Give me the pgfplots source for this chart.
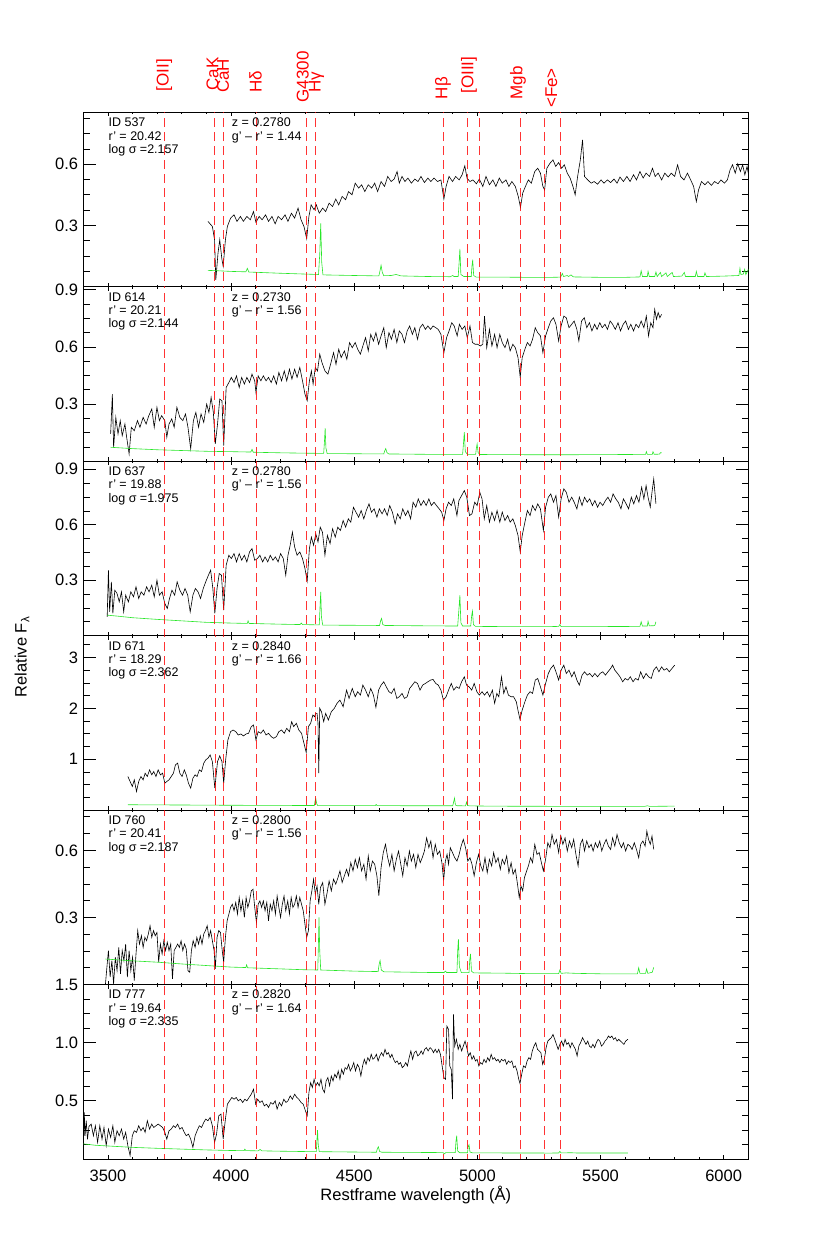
\documentclass[border=0pt]{standalone}
\usepackage{pgfplots}
\pgfplotsset{compat=1.18}
\usepackage{fontspec}
\setmainfont{Liberation Sans}

\newcommand\tickfont{\fontsize{16.5}{18}\selectfont}
\newcommand\infofont{\fontsize{12.5}{14}\selectfont}

\pgfplotsset{
  panel/.style={
    scale only axis, width=665pt, height=174.45pt,
    anchor=south west,
    xmin=3400, xmax=6100, ymin=0,
    xtick={3500,4000,4500,5000,5500,6000},
    minor xtick={3400,3500,...,6100},
    tick align=inside,
    axis line style={line width=0.8pt},
    every tick/.style={black, line width=0.7pt},
    every major x tick/.append style={/pgfplots/major tick length=4pt},
    every minor x tick/.append style={/pgfplots/minor tick length=2pt},
    every major y tick/.append style={/pgfplots/major tick length=12.5pt},
    every minor y tick/.append style={/pgfplots/minor tick length=6.5pt},
    yticklabel style={font=\tickfont, inner sep=0pt, xshift=-5pt},
    xticklabel style={font=\tickfont, inner sep=0pt, yshift=-11pt},
    clip mode=individual,
  },
  nolabels/.style={xticklabels={{},{},{},{},{},{}}},
  spec/.style={black, line width=0.6pt, no markers},
  sky/.style={color={rgb,255:red,40;green,230;blue,40}, line width=0.6pt, no markers},
  lineid/.style={red, opacity=0.8, line width=0.5pt, dash pattern=on 9pt off 5pt, no markers},
}

% red dashed index lines
\newcommand\redlines{\pgfplotsinvokeforeach{3727,3933.7,3968.5,4101.7,4304.4,4340.5,4861.3,4958.9,5006.8,5175,5270,5335}{\addplot[lineid] coordinates {(##1,-1) (##1,10)};}}

\newcommand\info[5]{%
  \node[anchor=base west, inner sep=0pt, font=\infofont] at (rel axis cs:0.0378,0.9175) {ID #1};
  \node[anchor=base west, inner sep=0pt, font=\infofont] at (rel axis cs:0.0378,0.841) {r’ = #2};
  \node[anchor=base west, inner sep=0pt, font=\infofont] at (rel axis cs:0.0378,0.765) {log σ =#3};
  \node[anchor=base west, inner sep=0pt, font=\infofont] at (rel axis cs:0.2233,0.9175) {z = #4};
  \node[anchor=base west, inner sep=0pt, font=\infofont] at (rel axis cs:0.2233,0.841) {g’ – r’ = #5};
}

\begin{document}
\begin{tikzpicture}
\useasboundingbox (0,0) rectangle (830pt,1247pt);

% ---------- ID 537 ----------
\begin{axis}[panel, nolabels, at={(83.3pt,960.25pt)}, ymax=0.854,
  ytick={0.3,0.6}, yticklabels={0.3,0.6},
  minor ytick={0.075,0.15,0.225,0.375,0.45,0.525,0.675,0.75,0.825}]
\addplot[spec] coordinates {
(3906,0.320)(3924,0.295)(3933,0.230)(3938,0.034)(3947,0.165)(3954,0.230)(3963,0.132)(3968,0.100)(3977,0.230)(3985,0.295)
(3998,0.336)(4012,0.352)(4024,0.320)(4038,0.344)(4050,0.320)(4064,0.344)(4078,0.328)(4091,0.368)(4101,0.315)(4114,0.344)
(4126,0.328)(4140,0.352)(4152,0.320)(4166,0.344)(4179,0.308)(4191,0.344)(4205,0.328)(4219,0.352)(4231,0.320)(4245,0.360)
(4258,0.336)(4272,0.385)(4284,0.328)(4296,0.295)(4307,0.235)(4316,0.344)(4325,0.401)(4337,0.377)(4346,0.401)(4358,0.360)
(4372,0.385)(4384,0.368)(4398,0.409)(4412,0.393)(4425,0.429)(4437,0.401)(4451,0.442)(4465,0.426)(4477,0.466)(4491,0.450)
(4504,0.507)(4518,0.483)(4530,0.499)(4543,0.466)(4557,0.499)(4571,0.483)(4583,0.507)(4595,0.466)(4609,0.515)(4623,0.491)
(4636,0.540)(4650,0.515)(4662,0.527)(4674,0.564)(4683,0.507)(4694,0.540)(4706,0.515)(4718,0.532)(4732,0.507)(4746,0.527)
(4759,0.515)(4771,0.540)(4785,0.510)(4799,0.532)(4811,0.515)(4824,0.532)(4838,0.515)(4852,0.523)(4864,0.429)(4873,0.491)
(4885,0.540)(4899,0.515)(4912,0.540)(4926,0.523)(4938,0.548)(4949,0.592)(4958,0.531)(4970,0.515)(4982,0.523)(4996,0.504)
(5008,0.527)(5022,0.491)(5035,0.540)(5049,0.499)(5063,0.523)(5075,0.491)(5089,0.532)(5101,0.507)(5116,0.523)(5128,0.491)
(5140,0.515)(5154,0.491)(5166,0.442)(5175,0.388)(5184,0.458)(5195,0.491)(5207,0.523)(5219,0.507)(5233,0.564)(5245,0.580)
(5256,0.556)(5266,0.491)(5273,0.474)(5282,0.580)(5295,0.605)(5307,0.621)(5318,0.589)(5330,0.608)(5342,0.580)(5353,0.597)
(5365,0.556)(5377,0.531)(5388,0.491)(5397,0.450)(5407,0.540)(5418,0.621)(5427,0.719)(5435,0.540)(5448,0.523)(5462,0.507)
(5474,0.515)(5488,0.502)(5502,0.523)(5514,0.507)(5528,0.523)(5541,0.510)(5555,0.527)(5567,0.507)(5579,0.537)(5593,0.515)
(5607,0.540)(5620,0.515)(5634,0.548)(5646,0.523)(5660,0.564)(5673,0.532)(5685,0.556)(5699,0.540)(5711,0.580)(5722,0.540)
(5734,0.556)(5748,0.523)(5761,0.556)(5775,0.537)(5787,0.556)(5801,0.540)(5813,0.597)(5825,0.540)(5839,0.523)(5853,0.556)
(5866,0.523)(5878,0.491)(5889,0.417)(5898,0.474)(5910,0.515)(5924,0.499)(5936,0.515)(5950,0.496)(5963,0.515)(5977,0.504)
(5989,0.523)(6003,0.507)(6015,0.523)(6026,0.572)(6036,0.597)(6047,0.556)(6057,0.602)(6068,0.564)(6077,0.597)(6086,0.548)
(6095,0.589)(6100,0.556)};
\addplot[sky] coordinates {
(3906,0.080)(3950,0.078)(4000,0.075)(4060,0.073)(4066,0.090)(4072,0.072)(4200,0.066)(4300,0.062)(4355,0.060)(4360,0.160)
(4364,0.310)(4368,0.120)(4373,0.058)(4500,0.055)(4600,0.053)(4605,0.080)(4609,0.105)(4614,0.070)(4620,0.054)(4650,0.055)
(4670,0.060)(4690,0.053)(4800,0.050)(4890,0.049)(4900,0.055)(4905,0.050)(4922,0.050)(4926,0.120)(4929,0.185)(4933,0.060)
(4945,0.050)(4975,0.050)(4978,0.100)(4981,0.132)(4985,0.055)(4995,0.047)(5100,0.047)(5200,0.046)(5300,0.046)(5338,0.047)
(5345,0.065)(5350,0.050)(5365,0.055)(5370,0.050)(5380,0.058)(5390,0.048)(5500,0.046)(5600,0.046)(5660,0.048)(5665,0.078)
(5670,0.050)(5690,0.050)(5693,0.075)(5698,0.050)(5720,0.050)(5725,0.072)(5730,0.050)(5743,0.070)(5748,0.050)(5766,0.068)
(5771,0.050)(5791,0.070)(5796,0.050)(5830,0.052)(5840,0.070)(5845,0.050)(5885,0.050)(5889,0.075)(5894,0.050)(5920,0.050)
(5924,0.068)(5930,0.050)(6000,0.052)(6062,0.055)(6066,0.090)(6070,0.060)(6080,0.062)(6085,0.085)(6090,0.060)(6100,0.085)};
\redlines
\info{537}{20.42}{2.157}{0.2780}{1.44}
\end{axis}

% ---------- ID 614 ----------
\begin{axis}[panel, nolabels, at={(83.3pt,785.8pt)}, ymax=0.916,
  ytick={0.3,0.6,0.9}, yticklabels={0.3,0.6,0.9},
  minor ytick={0.075,0.15,0.225,0.375,0.45,0.525,0.675,0.75,0.825}]
\addplot[spec] coordinates {
(3511,0.143)(3518,0.352)(3523,0.073)(3532,0.230)(3541,0.143)(3550,0.213)(3558,0.134)(3569,0.195)(3576,0.126)(3586,0.038)
(3595,0.178)(3607,0.160)(3620,0.213)(3630,0.178)(3643,0.230)(3655,0.195)(3666,0.239)(3678,0.274)(3688,0.178)(3699,0.283)
(3709,0.213)(3718,0.239)(3731,0.213)(3739,0.126)(3748,0.195)(3759,0.222)(3769,0.178)(3780,0.283)(3792,0.230)(3804,0.213)
(3815,0.248)(3825,0.178)(3836,0.065)(3847,0.213)(3857,0.256)(3868,0.178)(3878,0.248)(3889,0.204)(3901,0.300)(3910,0.256)
(3919,0.335)(3928,0.256)(3936,0.091)(3945,0.195)(3954,0.326)(3963,0.317)(3970,0.082)(3980,0.387)(3991,0.413)(4001,0.440)
(4012,0.413)(4022,0.448)(4033,0.387)(4043,0.440)(4054,0.405)(4064,0.440)(4075,0.413)(4085,0.457)(4096,0.422)(4101,0.361)
(4110,0.448)(4121,0.422)(4131,0.448)(4142,0.422)(4152,0.440)(4163,0.413)(4173,0.448)(4184,0.405)(4194,0.466)(4205,0.422)
(4216,0.474)(4226,0.422)(4237,0.483)(4247,0.431)(4258,0.483)(4268,0.440)(4279,0.492)(4290,0.422)(4300,0.352)(4309,0.317)
(4318,0.422)(4326,0.474)(4333,0.405)(4342,0.492)(4351,0.474)(4360,0.562)(4369,0.518)(4381,0.474)(4393,0.457)(4404,0.509)
(4416,0.570)(4426,0.509)(4437,0.588)(4447,0.544)(4460,0.579)(4470,0.535)(4481,0.623)(4492,0.596)(4504,0.623)(4514,0.588)
(4525,0.562)(4535,0.605)(4546,0.649)(4557,0.579)(4567,0.666)(4578,0.631)(4588,0.675)(4599,0.614)(4609,0.658)(4620,0.701)
(4630,0.596)(4641,0.675)(4651,0.640)(4662,0.692)(4673,0.623)(4683,0.684)(4694,0.666)(4704,0.623)(4715,0.684)(4725,0.710)
(4736,0.666)(4746,0.701)(4757,0.640)(4767,0.701)(4778,0.719)(4789,0.692)(4799,0.710)(4810,0.692)(4820,0.710)(4831,0.701)
(4841,0.692)(4852,0.666)(4864,0.570)(4875,0.649)(4885,0.684)(4896,0.727)(4906,0.710)(4918,0.658)(4927,0.719)(4938,0.692)
(4949,0.710)(4959,0.649)(4970,0.710)(4980,0.623)(4991,0.614)(5001,0.614)(5012,0.605)(5022,0.614)(5029,0.762)(5038,0.596)
(5049,0.692)(5059,0.605)(5070,0.666)(5080,0.596)(5091,0.666)(5101,0.623)(5112,0.596)(5123,0.640)(5133,0.579)(5144,0.614)
(5154,0.596)(5165,0.544)(5174,0.440)(5182,0.544)(5193,0.588)(5203,0.623)(5214,0.605)(5224,0.640)(5235,0.701)(5245,0.675)
(5256,0.658)(5266,0.570)(5277,0.658)(5288,0.701)(5298,0.736)(5309,0.753)(5319,0.719)(5330,0.631)(5340,0.710)(5351,0.762)
(5361,0.753)(5372,0.701)(5383,0.719)(5393,0.736)(5404,0.692)(5412,0.631)(5423,0.736)(5434,0.753)(5444,0.701)(5455,0.727)
(5465,0.684)(5476,0.719)(5486,0.692)(5497,0.727)(5507,0.701)(5518,0.719)(5528,0.692)(5539,0.736)(5549,0.719)(5560,0.692)
(5571,0.727)(5581,0.684)(5592,0.719)(5602,0.736)(5613,0.692)(5623,0.719)(5634,0.684)(5644,0.719)(5655,0.701)(5665,0.736)
(5676,0.701)(5686,0.762)(5695,0.658)(5704,0.727)(5713,0.701)(5720,0.797)(5727,0.745)(5734,0.780)(5741,0.753)(5748,0.771)};
\addplot[sky] coordinates {
(3511,0.073)(3600,0.066)(3700,0.060)(3800,0.056)(3900,0.052)(4000,0.050)(4080,0.048)(4085,0.062)(4090,0.047)(4200,0.044)
(4300,0.042)(4376,0.041)(4379,0.100)(4382,0.173)(4385,0.070)(4390,0.040)(4620,0.038)(4624,0.055)(4628,0.066)(4633,0.045)
(4640,0.038)(4800,0.036)(4940,0.036)(4944,0.100)(4947,0.152)(4951,0.050)(4960,0.036)(4993,0.036)(4996,0.070)(4999,0.090)
(5003,0.045)(5010,0.035)(5200,0.034)(5400,0.034)(5600,0.035)(5683,0.036)(5686,0.050)(5690,0.036)(5710,0.036)(5713,0.050)
(5718,0.036)(5740,0.037)(5743,0.045)(5748,0.044)};
\redlines
\info{614}{20.21}{2.144}{0.2730}{1.56}
\end{axis}

% ---------- ID 637 ----------
\begin{axis}[panel, nolabels, at={(83.3pt,611.35pt)}, ymax=0.944,
  ytick={0.3,0.6,0.9}, yticklabels={0.3,0.6,0.9},
  minor ytick={0.075,0.15,0.225,0.375,0.45,0.525,0.675,0.75,0.825}]
\addplot[spec] coordinates {
(3497,0.102)(3502,0.354)(3507,0.129)(3514,0.291)(3520,0.120)(3528,0.246)(3537,0.228)(3546,0.183)(3555,0.237)(3564,0.129)
(3572,0.219)(3583,0.183)(3593,0.237)(3604,0.210)(3614,0.264)(3625,0.201)(3635,0.237)(3646,0.219)(3657,0.264)(3667,0.237)
(3678,0.273)(3688,0.210)(3699,0.300)(3709,0.219)(3720,0.237)(3731,0.174)(3741,0.147)(3750,0.201)(3760,0.246)(3771,0.219)
(3781,0.291)(3792,0.246)(3803,0.219)(3813,0.255)(3824,0.219)(3834,0.129)(3845,0.219)(3855,0.255)(3866,0.237)(3876,0.201)
(3887,0.255)(3897,0.291)(3908,0.327)(3917,0.354)(3926,0.255)(3934,0.120)(3943,0.255)(3952,0.336)(3961,0.327)(3970,0.138)
(3980,0.381)(3991,0.435)(4001,0.417)(4012,0.444)(4022,0.399)(4033,0.444)(4043,0.408)(4054,0.435)(4064,0.399)(4075,0.453)
(4085,0.471)(4096,0.408)(4107,0.417)(4117,0.435)(4128,0.399)(4138,0.426)(4149,0.399)(4159,0.435)(4170,0.408)(4180,0.426)
(4191,0.399)(4201,0.444)(4212,0.417)(4222,0.327)(4231,0.435)(4240,0.489)(4249,0.560)(4258,0.480)(4268,0.435)(4279,0.453)
(4290,0.417)(4300,0.363)(4309,0.295)(4318,0.471)(4326,0.533)(4335,0.489)(4344,0.551)(4353,0.507)(4362,0.587)(4371,0.560)
(4381,0.435)(4391,0.542)(4402,0.498)(4412,0.578)(4423,0.533)(4433,0.587)(4444,0.569)(4455,0.623)(4465,0.587)(4476,0.632)
(4486,0.614)(4497,0.695)(4507,0.668)(4518,0.641)(4528,0.677)(4539,0.632)(4549,0.677)(4560,0.713)(4570,0.668)(4581,0.686)
(4592,0.641)(4602,0.686)(4613,0.659)(4623,0.686)(4634,0.650)(4644,0.704)(4655,0.668)(4666,0.605)(4676,0.659)(4687,0.632)
(4697,0.686)(4708,0.650)(4718,0.677)(4729,0.632)(4739,0.722)(4750,0.695)(4760,0.740)(4771,0.704)(4782,0.731)(4792,0.704)
(4803,0.740)(4813,0.704)(4824,0.722)(4834,0.704)(4845,0.686)(4855,0.668)(4864,0.623)(4873,0.686)(4883,0.722)(4894,0.704)
(4904,0.740)(4917,0.650)(4925,0.731)(4936,0.758)(4947,0.785)(4957,0.749)(4968,0.650)(4978,0.659)(4989,0.722)(4999,0.704)
(5010,0.776)(5019,0.740)(5028,0.632)(5038,0.704)(5049,0.614)(5059,0.668)(5070,0.623)(5080,0.677)(5091,0.614)(5101,0.668)
(5112,0.623)(5123,0.650)(5133,0.614)(5144,0.632)(5154,0.596)(5165,0.542)(5174,0.453)(5182,0.542)(5193,0.614)(5203,0.677)
(5214,0.650)(5224,0.704)(5235,0.677)(5245,0.713)(5256,0.686)(5268,0.569)(5277,0.695)(5288,0.749)(5298,0.767)(5309,0.722)
(5319,0.758)(5330,0.641)(5340,0.740)(5351,0.794)(5361,0.776)(5372,0.722)(5383,0.749)(5393,0.722)(5404,0.686)(5414,0.749)
(5425,0.704)(5435,0.749)(5446,0.722)(5456,0.740)(5467,0.704)(5477,0.731)(5488,0.695)(5498,0.722)(5509,0.704)(5520,0.731)
(5530,0.749)(5541,0.722)(5551,0.767)(5562,0.740)(5572,0.722)(5583,0.686)(5593,0.740)(5604,0.713)(5614,0.686)(5625,0.749)
(5635,0.713)(5646,0.758)(5656,0.722)(5667,0.803)(5676,0.740)(5685,0.812)(5693,0.749)(5702,0.695)(5709,0.776)(5716,0.848)
(5725,0.713)};
\addplot[sky] coordinates {
(3497,0.111)(3550,0.104)(3600,0.097)(3700,0.088)(3800,0.080)(3900,0.072)(4000,0.068)(4066,0.066)(4069,0.080)(4073,0.066)
(4200,0.062)(4280,0.060)(4285,0.068)(4290,0.060)(4358,0.058)(4361,0.150)(4364,0.237)(4367,0.100)(4372,0.057)(4500,0.056)
(4603,0.055)(4607,0.080)(4611,0.093)(4616,0.060)(4625,0.055)(4800,0.053)(4920,0.052)(4925,0.140)(4929,0.219)(4933,0.070)
(4940,0.052)(4973,0.052)(4977,0.110)(4980,0.133)(4984,0.060)(4992,0.050)(5100,0.049)(5300,0.049)(5330,0.050)(5335,0.060)
(5340,0.049)(5500,0.049)(5660,0.050)(5665,0.075)(5670,0.052)(5690,0.052)(5693,0.077)(5698,0.053)(5720,0.054)(5725,0.075)};
\redlines
\info{637}{19.88}{1.975}{0.2780}{1.56}
\end{axis}

% ---------- ID 671 ----------
\begin{axis}[panel, nolabels, at={(83.3pt,436.9pt)}, ymax=3.43,
  ytick={1,2,3}, yticklabels={1,2,3},
  minor ytick={0.25,0.5,0.75,1.25,1.5,1.75,2.25,2.5,2.75,3.25}]
\addplot[spec] coordinates {
(3581,0.660)(3590,0.562)(3599,0.464)(3607,0.595)(3616,0.366)(3625,0.562)(3634,0.660)(3643,0.595)(3651,0.725)(3660,0.660)
(3669,0.791)(3678,0.693)(3686,0.758)(3695,0.660)(3704,0.791)(3713,0.693)(3722,0.725)(3731,0.529)(3739,0.562)(3748,0.595)
(3757,0.660)(3766,0.725)(3774,0.889)(3783,0.922)(3792,0.725)(3801,0.660)(3810,0.791)(3818,0.693)(3827,0.529)(3836,0.431)
(3845,0.627)(3854,0.693)(3862,0.660)(3871,0.791)(3880,0.758)(3889,0.922)(3897,0.987)(3906,1.020)(3915,1.085)(3924,0.954)
(3934,0.431)(3945,0.954)(3954,1.065)(3963,0.954)(3970,0.529)(3978,0.987)(3987,1.379)(3998,1.542)(4008,1.575)(4019,1.542)
(4029,1.477)(4040,1.497)(4050,1.458)(4061,1.497)(4071,1.510)(4082,1.641)(4091,1.673)(4101,1.379)(4110,1.542)(4121,1.510)
(4131,1.575)(4142,1.477)(4152,1.510)(4163,1.444)(4173,1.412)(4184,1.444)(4194,1.542)(4205,1.575)(4216,1.510)(4226,1.608)
(4237,1.542)(4246,1.739)(4254,1.641)(4265,1.706)(4275,1.575)(4286,1.510)(4296,1.314)(4305,1.131)(4314,1.641)(4323,1.706)
(4332,1.869)(4339,1.837)(4344,1.902)(4349,1.902)(4353,1.706)(4356,0.725)(4360,2.000)(4367,1.935)(4376,1.739)(4384,1.902)
(4395,1.771)(4407,1.935)(4419,2.000)(4430,2.098)(4442,2.163)(4455,2.033)(4469,2.359)(4479,2.196)(4492,2.392)(4504,2.229)
(4514,2.327)(4525,2.261)(4535,2.458)(4546,2.359)(4557,2.229)(4567,2.392)(4578,2.261)(4588,2.020)(4599,2.359)(4609,2.458)
(4620,2.523)(4630,2.425)(4641,2.327)(4651,2.294)(4662,2.392)(4673,2.196)(4683,2.229)(4694,2.294)(4704,2.196)(4715,2.229)
(4725,2.392)(4736,2.458)(4746,2.523)(4757,2.490)(4767,2.359)(4778,2.458)(4789,2.490)(4799,2.523)(4810,2.556)(4820,2.569)
(4831,2.490)(4841,2.458)(4852,2.359)(4862,2.163)(4873,2.229)(4883,2.359)(4894,2.490)(4904,2.359)(4915,2.425)(4926,2.392)
(4936,2.523)(4947,2.621)(4956,2.458)(4966,2.425)(4977,2.359)(4987,2.490)(4998,2.327)(5008,2.261)(5019,2.327)(5029,2.261)
(5040,2.327)(5050,2.229)(5061,2.359)(5070,2.098)(5079,2.294)(5087,2.229)(5098,2.621)(5107,2.294)(5116,2.425)(5126,2.261)
(5137,2.229)(5147,2.229)(5158,2.131)(5166,1.935)(5173,1.784)(5182,1.967)(5193,2.131)(5203,2.261)(5214,2.327)(5224,2.294)
(5235,2.556)(5245,2.588)(5256,2.425)(5266,2.261)(5277,2.490)(5288,2.686)(5298,2.784)(5309,2.850)(5319,2.719)(5330,2.556)
(5340,2.752)(5351,2.850)(5361,2.686)(5372,2.752)(5383,2.621)(5393,2.719)(5404,2.556)(5414,2.458)(5425,2.654)(5435,2.719)
(5446,2.654)(5456,2.686)(5467,2.621)(5477,2.686)(5488,2.621)(5498,2.686)(5509,2.719)(5520,2.654)(5530,2.719)(5541,2.784)
(5549,2.850)(5558,2.752)(5569,2.686)(5579,2.621)(5590,2.523)(5600,2.588)(5611,2.556)(5621,2.621)(5632,2.523)(5642,2.588)
(5653,2.556)(5663,2.719)(5674,2.588)(5685,2.686)(5695,2.621)(5706,2.588)(5716,2.752)(5727,2.817)(5737,2.719)(5748,2.817)
(5758,2.752)(5769,2.784)(5779,2.719)(5790,2.784)(5801,2.850)};
\addplot[sky] coordinates {
(3581,0.105)(3800,0.100)(4000,0.095)(4200,0.092)(4338,0.090)(4341,0.180)(4344,0.222)(4348,0.120)(4352,0.089)(4585,0.088)
(4589,0.110)(4593,0.087)(4900,0.085)(4904,0.170)(4907,0.235)(4911,0.100)(4918,0.085)(4952,0.084)(4956,0.157)(4960,0.090)
(4968,0.083)(5050,0.078)(5200,0.075)(5400,0.074)(5600,0.073)(5680,0.074)(5690,0.085)(5700,0.073)(5801,0.078)};
\redlines
\info{671}{18.29}{2.362}{0.2840}{1.66}
\end{axis}

% ---------- ID 760 ----------
\begin{axis}[panel, nolabels, at={(83.3pt,262.45pt)}, ymax=0.78,
  ytick={0.3,0.6}, yticklabels={0.3,0.6},
  minor ytick={0.075,0.15,0.225,0.375,0.45,0.525,0.675,0.75}]
\addplot[spec] coordinates {
(3490,0.003)(3497,0.092)(3502,0.152)(3509,0.033)(3516,0.107)(3523,0.003)(3530,0.122)(3537,0.062)(3544,0.166)(3551,0.048)
(3558,0.152)(3565,0.107)(3572,0.181)(3579,0.033)(3586,0.152)(3593,0.062)(3600,0.122)(3607,0.018)(3614,0.137)(3621,0.241)
(3628,0.181)(3636,0.218)(3643,0.166)(3650,0.211)(3657,0.196)(3664,0.226)(3671,0.263)(3678,0.211)(3685,0.241)(3692,0.218)
(3699,0.233)(3706,0.100)(3713,0.181)(3720,0.137)(3727,0.196)(3734,0.152)(3741,0.189)(3748,0.152)(3755,0.181)(3762,0.025)
(3769,0.152)(3776,0.166)(3783,0.181)(3790,0.166)(3797,0.196)(3804,0.152)(3811,0.181)(3818,0.159)(3825,0.062)(3832,0.055)
(3839,0.152)(3846,0.196)(3854,0.166)(3861,0.211)(3868,0.181)(3875,0.218)(3882,0.181)(3889,0.226)(3896,0.241)(3903,0.263)
(3910,0.211)(3917,0.241)(3924,0.196)(3931,0.152)(3936,0.070)(3943,0.211)(3950,0.241)(3957,0.233)(3964,0.152)(3970,0.100)
(3977,0.211)(3984,0.285)(3991,0.315)(3998,0.345)(4005,0.359)(4012,0.330)(4019,0.367)(4026,0.315)(4033,0.389)(4040,0.330)
(4047,0.374)(4054,0.300)(4061,0.389)(4068,0.345)(4075,0.374)(4082,0.419)(4089,0.426)(4096,0.345)(4103,0.278)(4110,0.359)
(4117,0.374)(4124,0.345)(4131,0.374)(4138,0.330)(4145,0.367)(4152,0.285)(4159,0.359)(4166,0.330)(4173,0.374)(4180,0.315)
(4187,0.396)(4194,0.345)(4201,0.300)(4208,0.359)(4215,0.396)(4222,0.330)(4230,0.374)(4237,0.315)(4244,0.389)(4251,0.345)
(4258,0.359)(4265,0.396)(4272,0.345)(4279,0.389)(4286,0.359)(4293,0.330)(4300,0.270)(4307,0.211)(4314,0.241)(4321,0.374)
(4328,0.419)(4335,0.471)(4342,0.404)(4349,0.441)(4356,0.359)(4363,0.434)(4372,0.456)(4381,0.359)(4390,0.411)(4398,0.463)
(4407,0.419)(4416,0.471)(4425,0.449)(4434,0.478)(4442,0.508)(4451,0.456)(4460,0.486)(4469,0.515)(4477,0.486)(4486,0.545)
(4495,0.508)(4504,0.560)(4513,0.523)(4521,0.567)(4530,0.508)(4539,0.538)(4548,0.471)(4557,0.575)(4565,0.508)(4574,0.552)
(4583,0.538)(4592,0.486)(4600,0.397)(4609,0.523)(4618,0.590)(4627,0.627)(4636,0.567)(4644,0.530)(4653,0.582)(4662,0.508)
(4671,0.560)(4680,0.597)(4689,0.538)(4697,0.486)(4706,0.567)(4715,0.530)(4724,0.597)(4732,0.552)(4741,0.582)(4750,0.523)
(4759,0.582)(4768,0.545)(4776,0.567)(4785,0.597)(4794,0.656)(4803,0.612)(4811,0.642)(4820,0.567)(4829,0.627)(4838,0.582)
(4847,0.597)(4856,0.545)(4863,0.466)(4870,0.552)(4877,0.582)(4883,0.538)(4890,0.612)(4899,0.590)(4908,0.567)(4917,0.552)
(4926,0.582)(4934,0.619)(4943,0.649)(4952,0.612)(4961,0.552)(4970,0.567)(4978,0.538)(4987,0.486)(4996,0.545)(5005,0.582)
(5014,0.530)(5022,0.508)(5031,0.567)(5040,0.500)(5049,0.560)(5058,0.530)(5066,0.590)(5075,0.545)(5084,0.567)(5093,0.515)
(5101,0.560)(5110,0.538)(5119,0.575)(5128,0.500)(5137,0.545)(5145,0.493)(5154,0.515)(5163,0.448)(5170,0.389)(5177,0.441)
(5184,0.419)(5191,0.478)(5200,0.508)(5207,0.530)(5216,0.567)(5224,0.545)(5233,0.627)(5242,0.582)(5251,0.590)(5260,0.545)
(5268,0.508)(5277,0.560)(5286,0.634)(5295,0.612)(5303,0.671)(5312,0.627)(5321,0.649)(5330,0.590)(5339,0.664)(5347,0.627)
(5356,0.656)(5365,0.597)(5374,0.642)(5383,0.612)(5391,0.649)(5400,0.582)(5409,0.530)(5418,0.627)(5427,0.649)(5435,0.597)
(5444,0.642)(5453,0.612)(5462,0.627)(5470,0.597)(5479,0.634)(5488,0.612)(5497,0.642)(5505,0.597)(5514,0.627)(5523,0.649)
(5532,0.619)(5541,0.604)(5549,0.656)(5558,0.619)(5567,0.671)(5576,0.634)(5585,0.612)(5593,0.634)(5602,0.597)(5611,0.627)
(5620,0.619)(5628,0.604)(5637,0.634)(5646,0.604)(5655,0.567)(5663,0.627)(5672,0.642)(5681,0.619)(5688,0.686)(5695,0.649)
(5702,0.627)(5709,0.664)(5716,0.604)};
\addplot[sky] coordinates {
(3490,0.114)(3600,0.106)(3700,0.100)(3800,0.092)(3900,0.085)(4000,0.078)(4060,0.076)(4063,0.088)(4067,0.075)(4200,0.070)
(4300,0.066)(4352,0.065)(4355,0.200)(4357,0.300)(4360,0.150)(4364,0.065)(4500,0.060)(4597,0.058)(4601,0.090)(4605,0.107)
(4610,0.065)(4620,0.057)(4800,0.054)(4865,0.054)(4870,0.060)(4875,0.054)(4917,0.054)(4920,0.150)(4923,0.203)(4927,0.080)
(4935,0.053)(4966,0.053)(4969,0.110)(4972,0.137)(4976,0.060)(4985,0.052)(5100,0.051)(5200,0.049)(5330,0.049)(5335,0.065)
(5340,0.050)(5360,0.052)(5400,0.050)(5500,0.048)(5650,0.048)(5655,0.075)(5660,0.050)(5683,0.050)(5687,0.070)(5692,0.050)
(5710,0.055)(5716,0.077)};
\redlines
\info{760}{20.41}{2.187}{0.2800}{1.56}
\end{axis}

% ---------- ID 777 ----------
\begin{axis}[panel, at={(83.3pt,88pt)}, ymax=1.5,
  ytick={0.5,1,1.5}, yticklabels={0.5,1.0,1.5},
  xticklabels={3500,4000,4500,5000,5500,6000},
  minor ytick={0.125,0.25,0.375,0.625,0.75,0.875,1.125,1.25,1.375}]
\addplot[spec] coordinates {
(3401,0.150)(3404,0.400)(3407,0.200)(3412,0.330)(3417,0.170)(3423,0.280)(3432,0.300)(3441,0.200)(3449,0.286)(3458,0.143)
(3467,0.286)(3476,0.171)(3484,0.271)(3493,0.114)(3502,0.257)(3511,0.186)(3520,0.286)(3528,0.143)(3537,0.243)(3546,0.200)
(3555,0.257)(3564,0.171)(3572,0.229)(3581,0.114)(3590,0.029)(3599,0.200)(3607,0.243)(3616,0.229)(3625,0.286)(3634,0.243)
(3643,0.271)(3651,0.229)(3660,0.329)(3669,0.257)(3678,0.300)(3686,0.271)(3695,0.286)(3704,0.300)(3713,0.286)(3722,0.271)
(3731,0.229)(3739,0.171)(3748,0.243)(3757,0.257)(3766,0.286)(3774,0.271)(3783,0.300)(3792,0.257)(3801,0.271)(3810,0.229)
(3818,0.200)(3827,0.214)(3836,0.171)(3845,0.100)(3854,0.200)(3862,0.243)(3871,0.286)(3880,0.271)(3889,0.314)(3897,0.343)
(3906,0.329)(3915,0.357)(3924,0.286)(3933,0.143)(3941,0.214)(3950,0.371)(3959,0.386)(3968,0.171)(3977,0.343)(3985,0.471)
(3994,0.500)(4003,0.529)(4012,0.514)(4021,0.529)(4029,0.500)(4038,0.514)(4047,0.486)(4056,0.514)(4064,0.500)(4073,0.529)
(4082,0.557)(4091,0.600)(4100,0.471)(4108,0.514)(4117,0.486)(4126,0.500)(4135,0.457)(4144,0.471)(4152,0.443)(4161,0.486)
(4170,0.471)(4179,0.500)(4187,0.429)(4196,0.486)(4205,0.457)(4214,0.514)(4223,0.486)(4231,0.500)(4240,0.543)(4249,0.514)
(4258,0.557)(4267,0.529)(4275,0.514)(4284,0.486)(4293,0.471)(4302,0.414)(4309,0.371)(4316,0.571)(4323,0.657)(4330,0.614)
(4337,0.686)(4344,0.629)(4351,0.657)(4358,0.629)(4365,0.686)(4372,0.600)(4379,0.571)(4386,0.671)(4393,0.700)(4400,0.629)
(4407,0.714)(4414,0.671)(4421,0.729)(4428,0.700)(4435,0.757)(4442,0.686)(4449,0.771)(4456,0.729)(4463,0.786)(4470,0.771)
(4477,0.814)(4484,0.757)(4491,0.786)(4498,0.829)(4505,0.757)(4513,0.814)(4520,0.786)(4527,0.714)(4534,0.800)(4541,0.857)
(4548,0.814)(4555,0.871)(4562,0.843)(4569,0.900)(4576,0.857)(4583,0.871)(4590,0.900)(4597,0.843)(4604,0.886)(4611,0.914)
(4618,0.886)(4625,0.943)(4632,0.900)(4639,0.914)(4646,0.871)(4653,0.900)(4660,0.857)(4667,0.829)(4674,0.843)(4681,0.814)
(4688,0.829)(4695,0.786)(4702,0.800)(4709,0.829)(4716,0.800)(4723,0.871)(4730,0.929)(4737,0.857)(4744,0.914)(4751,0.929)
(4758,0.886)(4765,0.900)(4772,0.929)(4779,0.900)(4786,0.943)(4793,0.957)(4800,0.929)(4808,0.957)(4815,0.943)(4822,0.914)
(4829,0.943)(4836,0.914)(4843,0.943)(4850,0.900)(4857,0.800)(4864,0.700)(4871,0.686)(4876,1.143)(4883,1.114)(4888,0.800)
(4894,0.771)(4899,0.514)(4903,1.243)(4908,0.971)(4915,1.029)(4922,0.943)(4929,0.986)(4936,0.929)(4943,0.971)(4950,1.014)
(4957,0.957)(4964,0.886)(4971,0.914)(4978,0.857)(4985,0.886)(4992,0.843)(4999,0.857)(5006,0.800)(5013,0.829)(5020,0.814)
(5027,0.857)(5035,0.829)(5042,0.871)(5049,0.843)(5056,0.900)(5063,0.857)(5070,0.871)(5077,0.843)(5084,0.857)(5091,0.829)
(5098,0.857)(5105,0.843)(5112,0.857)(5119,0.814)(5126,0.843)(5133,0.829)(5140,0.843)(5147,0.786)(5154,0.800)(5161,0.757)
(5168,0.686)(5173,0.649)(5180,0.729)(5187,0.800)(5195,0.786)(5202,0.843)(5209,0.871)(5216,0.857)(5223,0.929)(5230,0.971)
(5237,1.000)(5244,0.943)(5251,0.929)(5258,0.914)(5265,0.814)(5272,0.857)(5279,0.957)(5286,1.014)(5293,1.029)(5300,1.043)
(5307,1.071)(5314,1.029)(5321,0.986)(5328,0.943)(5335,0.986)(5342,1.014)(5349,0.971)(5356,1.029)(5363,0.986)(5370,1.000)
(5377,0.957)(5384,1.000)(5391,0.971)(5398,0.943)(5405,0.886)(5412,0.971)(5419,1.000)(5427,1.043)(5434,1.014)(5441,0.986)
(5448,1.014)(5455,0.971)(5462,0.957)(5469,0.986)(5476,0.957)(5483,1.000)(5490,1.029)(5497,1.014)(5504,0.971)(5511,0.986)
(5518,1.014)(5525,1.029)(5532,1.057)(5539,1.043)(5546,1.057)(5553,1.029)(5560,1.043)(5567,1.014)(5574,1.029)(5581,1.014)
(5588,1.000)(5595,0.986)(5602,1.014)(5611,1.029)};
\addplot[sky] coordinates {
(3400,0.130)(3450,0.118)(3500,0.112)(3600,0.100)(3700,0.092)(3800,0.085)(3900,0.078)(4000,0.073)(4053,0.072)(4056,0.085)
(4060,0.072)(4110,0.070)(4118,0.082)(4125,0.070)(4200,0.067)(4300,0.064)(4346,0.063)(4349,0.180)(4351,0.249)(4354,0.120)
(4358,0.063)(4500,0.060)(4590,0.058)(4594,0.090)(4598,0.105)(4603,0.065)(4612,0.058)(4800,0.056)(4860,0.055)(4866,0.045)
(4872,0.055)(4910,0.055)(4913,0.150)(4916,0.200)(4920,0.070)(4928,0.054)(4960,0.054)(4963,0.110)(4966,0.123)(4970,0.060)
(4980,0.053)(5100,0.052)(5300,0.051)(5330,0.052)(5335,0.065)(5340,0.052)(5380,0.054)(5400,0.052)(5611,0.052)};
\redlines
\info{777}{19.64}{2.335}{0.2820}{1.64}
\end{axis}

% line labels above the top panel
\begin{scope}[every node/.style={red, rotate=90, inner sep=0pt, font=\fontsize{17}{19}\selectfont}]
\node at (164.3pt,1172pt) {[OII]};
\node at (212.5pt,1173pt) {CaK};
\node at (223pt,1171pt) {CaH};
\node at (255.5pt,1165pt) {Hδ};
\node at (302.8pt,1170pt) {G4300};
\node at (316.5pt,1165pt) {Hγ};
\node at (442.9pt,1159pt) {Hβ};
\node at (469pt,1172pt) {[OIII]};
\node at (518pt,1164pt) {Mgb};
\node at (551.3pt,1159pt) {<Fe>};
\end{scope}

% axis titles
\node[rotate=90, font=\fontsize{16.5}{18}\selectfont] at (22pt,590pt) {Relative F\textsubscript{λ}};
\node[anchor=base, font=\fontsize{16.5}{18}\selectfont] at (415.8pt,46.3pt) {Restframe wavelength (Å)};
\end{tikzpicture}
\end{document}
